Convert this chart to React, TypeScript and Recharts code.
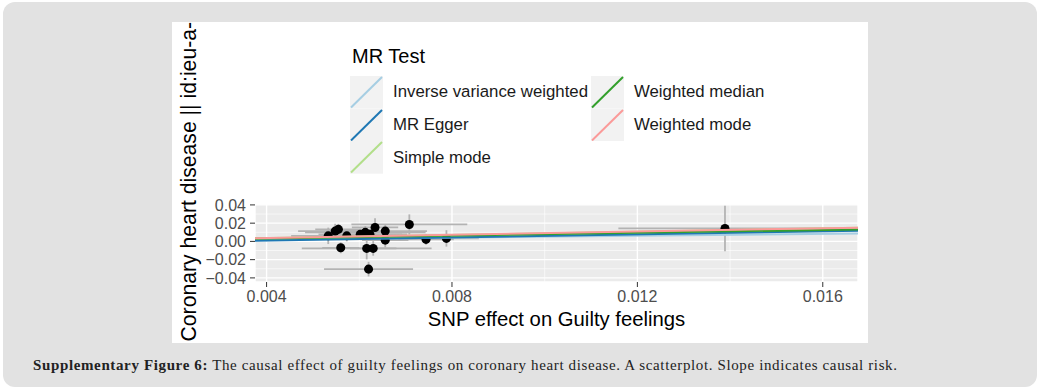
import { ScatterChart, Scatter, XAxis, YAxis, ZAxis, CartesianGrid, ErrorBar, ReferenceLine } from "recharts";

// SNP effects (exposure = guilty feelings, outcome = coronary heart disease)
const snpX = [0.00533, 0.00548, 0.00555, 0.0056, 0.00573, 0.00602, 0.00613, 0.00623, 0.00634, 0.00616, 0.0063, 0.0062, 0.00656, 0.00656, 0.00708, 0.00744, 0.00788, 0.01389];
const snpY = [0.0061, 0.0113, 0.0132, -0.007, 0.0061, 0.0077, 0.0099, 0.0077, 0.0153, -0.0077, -0.0077, -0.0304, 0.0113, 0.0014, 0.0186, 0.0022, 0.0033, 0.0142];
const seX = [0.0008, 0.0008, 0.0005, 0.0004, 0.0005, 0.0009, 0.0013, 0.0008, 0.0005, 0.0014, 0.0005, 0.00096, 0.0009, 0.0005, 0.00125, 0.0006, 0.0007, 0.0023];
const seY = [0.009, 0.008, 0.006, 0.006, 0.006, 0.006, 0.007, 0.006, 0.01, 0.012, 0.008, 0.008, 0.007, 0.008, 0.011, 0.006, 0.009, 0.025];

const xDomain = [0.00375, 0.01676];
const yDomain = [-0.0445, 0.041];
const xTicks = [0.004, 0.008, 0.012, 0.016];
const xMinor = [0.006, 0.01, 0.014];
const yTicks = [-0.04, -0.02, 0, 0.02, 0.04];
const yMinor = [-0.03, -0.01, 0.01, 0.03];

const methods = ["Inverse variance weighted", "MR Egger", "Simple mode", "Weighted median", "Weighted mode"];
const methodColors = ["#a6cee3", "#1f78b4", "#b2df8a", "#33a02c", "#fb9a99"];
const slopes = [0.51, 0.853, 0.89, 0.785, 0.9];
const intercepts = [0, -0.0025, 0, 0, 0];

const points = snpX.map((x, i) => ({ x, y: snpY[i], ex: seX[i], ey: seY[i] }));

const FONT = "'Liberation Sans', Arial, sans-serif";
const tickStyle = { fill: "#4d4d4d", fontSize: 16, fontFamily: FONT };

function LegendKey({ color }: { color: string }) {
  return (
    <svg width={33} height={32.7} style={{ display: "block" }}>
      <rect x={0} y={0} width={33} height={32.7} fill="#f2f2f2" />
      <line x1={1} y1={31.5} x2={32} y2={1} stroke={color} strokeWidth={2} />
    </svg>
  );
}

function LegendCol({ idx, left }: { idx: number[]; left: number }) {
  return (
    <div style={{ position: "absolute", left, top: 54 }}>
      {idx.map((i) => (
        <div key={i} style={{ display: "flex", alignItems: "center", height: 32.7 }}>
          <LegendKey color={methodColors[i]} />
          <span style={{ marginLeft: 10, fontSize: 16.8, color: "#1a1a1a", whiteSpace: "nowrap" }}>{methods[i]}</span>
        </div>
      ))}
    </div>
  );
}

export default function App() {
  return (
    <div style={{ position: "absolute", left: 0, top: 0, width: 1041, height: 389, background: "#fff", overflow: "hidden" }}>
      <div style={{ position: "absolute", left: 3, top: 2, width: 1034, height: 385, background: "#e2e2e2", borderRadius: 12 }} />

      <div style={{ position: "absolute", left: 172, top: 22, width: 696, height: 321, background: "#fff", overflow: "hidden", fontFamily: FONT }}>
        <ScatterChart width={696} height={321} margin={{ top: 182, right: 10, bottom: 0, left: 0 }}>
          <CartesianGrid fill="#ebebeb" stroke="#ffffff" strokeWidth={1.4} />
          {xMinor.map((v) => (
            <ReferenceLine key={"xm" + v} x={v} stroke="#ffffff" strokeWidth={0.6} zIndex={-90} />
          ))}
          {yMinor.map((v) => (
            <ReferenceLine key={"ym" + v} y={v} stroke="#ffffff" strokeWidth={0.6} zIndex={-90} />
          ))}
          <XAxis
            type="number"
            dataKey="x"
            domain={xDomain}
            ticks={xTicks}
            interval={0}
            allowDataOverflow
            height={61}
            axisLine={false}
            tickSize={5}
            tickMargin={4}
            tickLine={{ stroke: "#333333" }}
            tick={tickStyle}
            tickFormatter={(v: number) => v.toFixed(3)}
          />
          <YAxis
            type="number"
            dataKey="y"
            domain={yDomain}
            ticks={yTicks}
            interval={0}
            allowDataOverflow
            width={83}
            axisLine={false}
            tickSize={5}
            tickMargin={4}
            tickLine={{ stroke: "#333333" }}
            tick={tickStyle}
            tickFormatter={(v: number) => v.toFixed(2).replace("-", "\u2212")}
          />
          <ZAxis range={[80, 80]} />
          <Scatter data={points} fill="#000000" isAnimationActive={false}>
            <ErrorBar dataKey="ey" direction="y" width={0} stroke="#b3b3b3" strokeWidth={1.8} />
            <ErrorBar dataKey="ex" direction="x" width={0} stroke="#b3b3b3" strokeWidth={1.8} />
          </Scatter>
          {methods.map((m, i) => (
            <ReferenceLine
              key={m}
              segment={[
                { x: xDomain[0], y: intercepts[i] + slopes[i] * xDomain[0] },
                { x: xDomain[1], y: intercepts[i] + slopes[i] * xDomain[1] },
              ]}
              stroke={methodColors[i]}
              strokeWidth={2}
              zIndex={700}
            />
          ))}
        </ScatterChart>

        <svg width={696} height={321} style={{ position: "absolute", left: 0, top: 0, pointerEvents: "none" }}>
          <text x={23.5} y={319.5} transform="rotate(-90 23.5 319.5)" fontSize={21.2} fill="#000" fontFamily={FONT}>
            Coronary heart disease || id:ieu-a-
          </text>
          <text x={384.5} y={304} textAnchor="middle" fontSize={20.3} fill="#000" fontFamily={FONT}>
            SNP effect on Guilty feelings
          </text>
        </svg>

        <div style={{ position: "absolute", left: 180, top: 22, fontSize: 20, color: "#000", lineHeight: "24px" }}>MR Test</div>
        <LegendCol idx={[0, 1, 2]} left={178} />
        <LegendCol idx={[3, 4]} left={419} />
      </div>

      <svg width={1041} height={389} style={{ position: "absolute", left: 0, top: 0, pointerEvents: "none" }}>
        <text x={33} y={369.5} fontSize={15} fill="#222" fontFamily="'Liberation Serif', 'Times New Roman', serif" textLength={864} lengthAdjust="spacing">
          <tspan fontWeight="bold">Supplementary Figure 6:</tspan> The causal effect of guilty feelings on coronary heart disease. A scatterplot. Slope indicates causal risk.
        </text>
      </svg>
    </div>
  );
}
